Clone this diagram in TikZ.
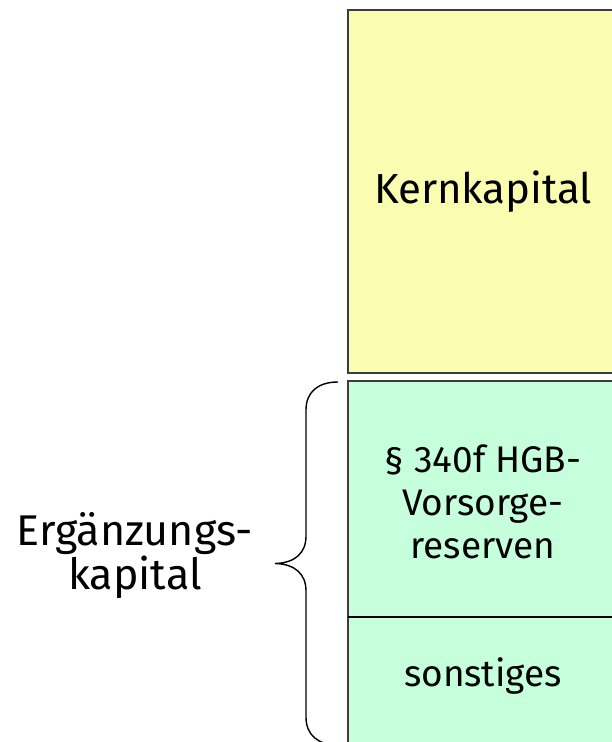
\documentclass[tikz,border=0pt]{standalone}
\usepackage{fontspec}
\setmainfont{Fira Sans}
\definecolor{corefill}{HTML}{FAFDB0}
\definecolor{suppfill}{HTML}{C6FFDC}
\definecolor{boxline}{HTML}{3C3C3C}
\begin{document}
\begin{tikzpicture}[x=1pt,y=-1pt,
  capbox/.style={draw=boxline,line width=1.5pt,inner sep=0pt},
  bigtext/.style={font=\fontsize{42}{48}\selectfont},
  boxtext/.style={font=\fontsize{37}{43}\selectfont,align=center},
  sidetext/.style={font=\fontsize{43}{40}\selectfont,align=center},
  bracestroke/.style={draw=black,line width=1.4pt}]
\useasboundingbox (0,0) rectangle (612,742);
% Tier 1 capital block
\draw[capbox,fill=corefill] (348,10) rectangle (618,373);
\node[bigtext] (kern) at (483,192) {Kernkapital};
% Tier 2 capital block with its divider
\draw[capbox,fill=suppfill] (348,381) rectangle (618,750);
\coordinate (divL) at (348,617);
\coordinate (divR) at (618,617);
\draw[line width=1.3pt] (divL) -- (divR);
\node[boxtext] (hgb) at (483,502) {§ 340f HGB-\\Vorsorge-\\reserven};
\node[boxtext] (sonst) at (483,676) {sonstiges};
% Curly brace grouping the tier 2 parts
\coordinate (bTop) at (338,382);
\coordinate (bTip) at (275,563.5);
\coordinate (bBot) at (338,745);
\draw[bracestroke] (bTop) .. controls (318,382) and (306,392) .. (306,410)
  -- (306,536) .. controls (306,553) and (295,563) .. (bTip)
  .. controls (295,564) and (306,574) .. (306,591)
  -- (306,717) .. controls (306,735) and (318,745) .. (bBot);
\node[sidetext,anchor=base] (erg) at (135,589) {Ergänzungs-\\kapital};
\end{tikzpicture}
\end{document}
